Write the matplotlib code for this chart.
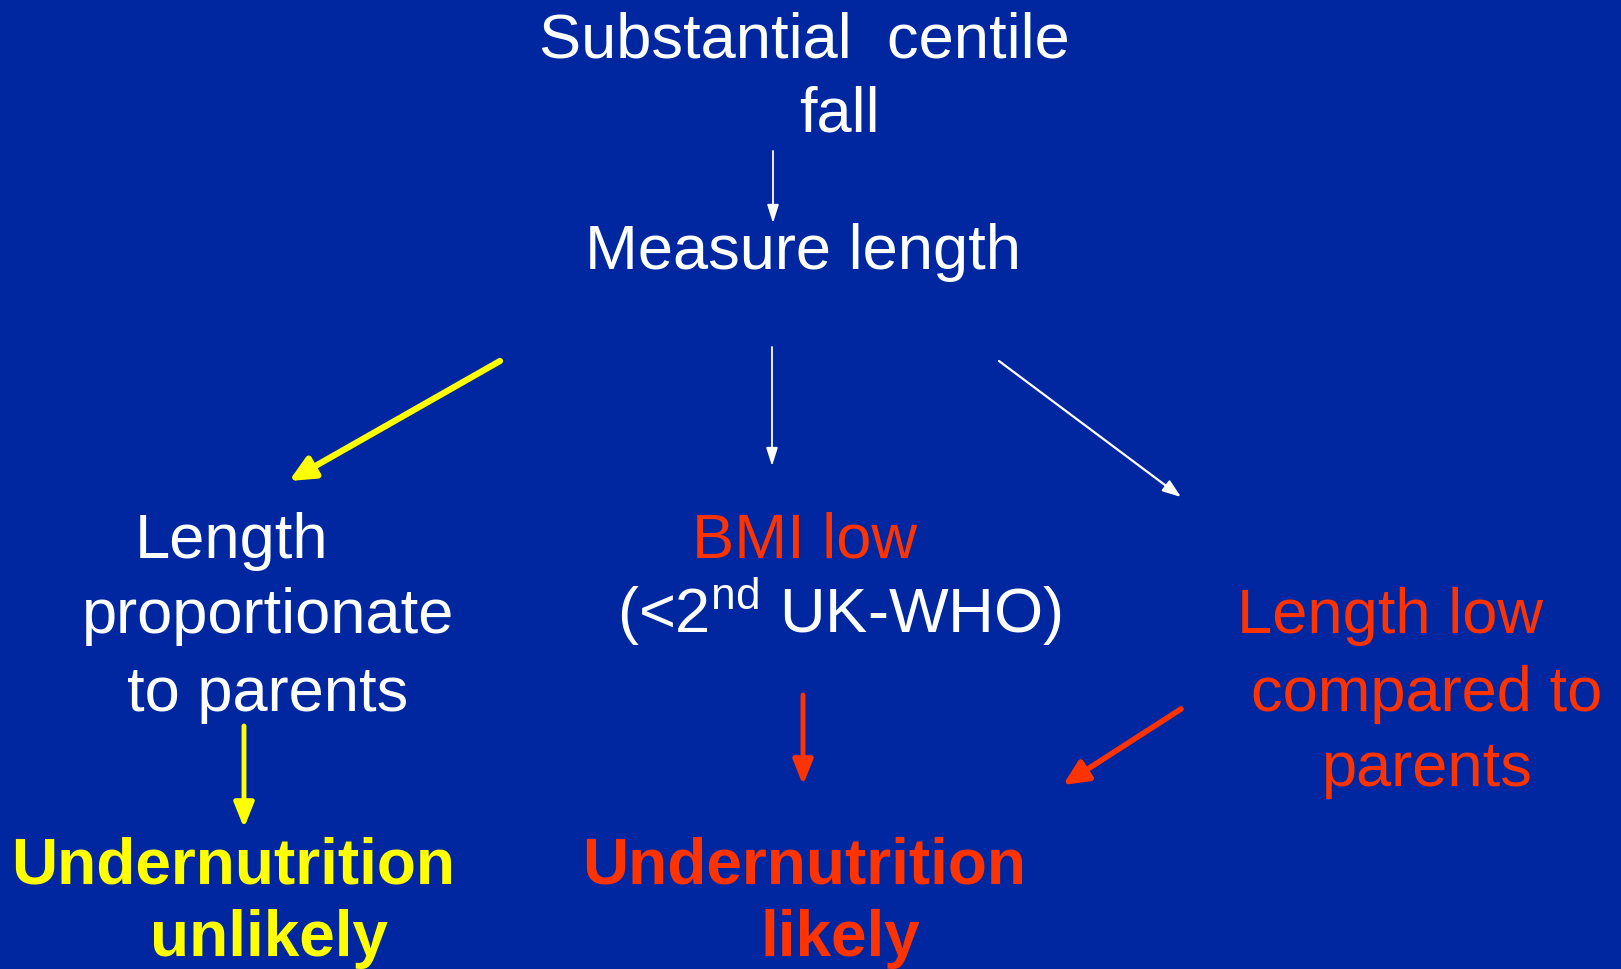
import matplotlib
matplotlib.use('Agg')
import matplotlib.pyplot as plt

BG = '#0027A0'
WHITE = '#FFFFFF'
RED = '#FF3300'
YELLOW = '#FFFF00'

plt.rcParams['font.family'] = ['Liberation Sans', 'DejaVu Sans']

# node texts: (text, colour, bold)
labels = ['Substantial  centile', 'fall', 'Measure length',
          'Length', 'proportionate', 'to parents',
          'BMI low', '(<2$^{\\mathregular{nd}}$ UK-WHO)',
          'Length low', 'compared to', 'parents',
          'Undernutrition', 'unlikely',
          'Undernutrition', 'likely']
label_colors = [WHITE, WHITE, WHITE,
                WHITE, WHITE, WHITE,
                RED, WHITE,
                RED, RED, RED,
                YELLOW, YELLOW,
                RED, RED]
label_bold = [False] * 11 + [True] * 4

# baseline centre positions in pixels
label_pos = [(804, 57), (839, 132), (803, 269),
             (232, 558), (268, 633), (268, 711),
             (804, 558), (839, 633),
             (1390, 633), (1427, 711), (1427, 786),
             (233, 884), (269, 956),
             (804, 884), (840, 956)]

# arrows: start, end, colour, line width, head length, head half-width (pt)
arrows = [((773, 152), (773, 224), WHITE, 1.3, 11, 3.5),
          ((500, 362), (289, 482), YELLOW, 4.5, 15, 7),
          ((772, 348), (772, 467), WHITE, 1.3, 11, 3.5),
          ((999, 362), (1181, 498), WHITE, 1.6, 11, 4),
          ((244, 727), (244, 829), YELLOW, 3.5, 15, 6),
          ((803, 696), (803, 786), RED, 3.5, 15, 6),
          ((1181, 710), (1063, 786), RED, 4.0, 15, 7)]

fig = plt.figure(figsize=(16.21, 9.70), dpi=100)
fig.patch.set_facecolor(BG)
ax = fig.add_axes([0, 0, 1, 1])
ax.set_facecolor(BG)
ax.set_xlim(0, 1621)
ax.set_ylim(970, 0)
ax.axis('off')

for txt, c, b, (x, y) in zip(labels, label_colors, label_bold, label_pos):
    ax.text(x, y, txt, color=c, fontsize=46 if b else 45.5,
            fontweight='bold' if b else 'normal',
            ha='center', va='baseline')

for (x0, y0), (x1, y1), c, w, hl, hw in arrows:
    style = '-|>,head_length=%g,head_width=%g' % (hl, hw)
    ax.annotate('', xy=(x1, y1), xytext=(x0, y0),
                arrowprops=dict(arrowstyle=style, color=c, lw=w,
                                mutation_scale=1, shrinkA=0, shrinkB=0))

fig.savefig('out.png', dpi=100, facecolor=BG)
